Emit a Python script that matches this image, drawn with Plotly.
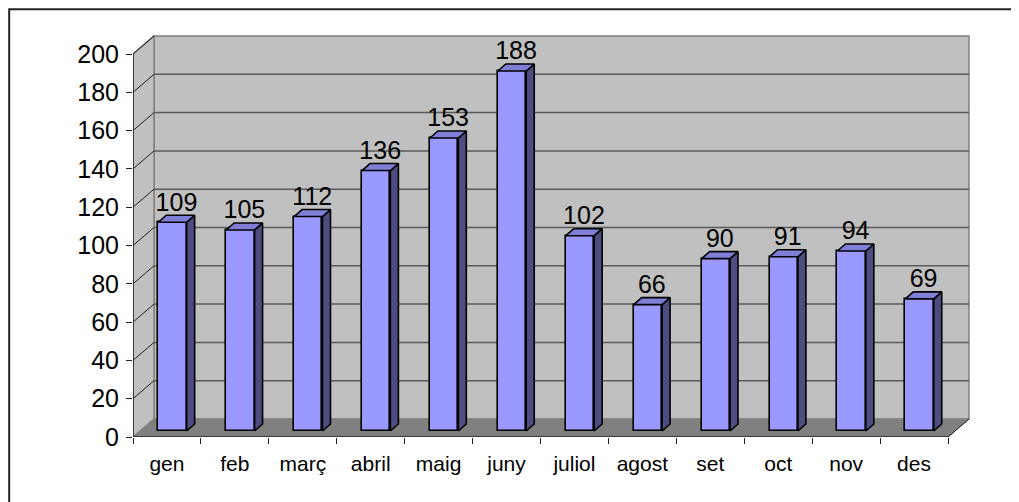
import plotly.graph_objects as go

months = ["gen", "feb", "març", "abril", "maig", "juny", "juliol", "agost", "set", "oct", "nov", "des"]
values = [109, 105, 112, 136, 153, 188, 102, 66, 90, 91, 94, 69]
y_ticks = list(range(0, 201, 20))

# geometry (axis units); page body margin offsets the figure
OFF = 8
W, H = 1019, 502
L, R, T, B = 133 - OFF, 980 - OFF, 30 - OFF, 437 - OFF
px_per_x = (948 - 133) / 12.0
px_per_y = (437 - 54) / 200.0
x0 = -0.5
x1 = x0 + (R - L) / px_per_x
y1 = (B - T) / px_per_y
DX = 21 / px_per_x   # wall depth
DY = 18 / px_per_y
ymax = y_ticks[-1]
n = len(months)

bar_off = 0.081
bar_w = 0.418
base = 3.13
bdx = 8 / px_per_x
bdy = 7 / px_per_y
label_drop = 1.5 / px_per_y

idx = list(range(n))
FONT = "Liberation Sans, Arial, sans-serif"

fig = go.Figure()

# front faces
fig.add_trace(go.Bar(
    x=[i + bar_off for i in idx], y=values, base=base, width=bar_w,
    marker=dict(color="#9999FF", line=dict(color="black", width=1.6)),
    hoverinfo="skip", showlegend=False,
))

# side and top faces
sx, sy, tx, ty = [], [], [], []
for i, v in zip(idx, values):
    xl = i + bar_off - bar_w / 2
    xr = i + bar_off + bar_w / 2
    top = base + v
    sx += [xr, xr + bdx, xr + bdx, xr, xr, None]
    sy += [base, base + bdy, top + bdy, top, base, None]
    tx += [xl, xl + bdx, xr + bdx, xr, xl, None]
    ty += [top, top + bdy, top + bdy, top, top, None]
fig.add_trace(go.Scatter(x=sx, y=sy, mode="lines", fill="toself", fillcolor="#4D4D82",
                         line=dict(color="black", width=1.6), hoverinfo="skip", showlegend=False))
fig.add_trace(go.Scatter(x=tx, y=ty, mode="lines", fill="toself", fillcolor="#7F7FD8",
                         line=dict(color="black", width=1.6), hoverinfo="skip", showlegend=False))

# value labels
fig.add_trace(go.Scatter(
    x=[i + bar_off + bdx / 2 for i in idx], y=[base + v + bdy - label_drop for v in values],
    mode="text", text=[str(v) for v in values], textposition="top center",
    textfont=dict(family=FONT, size=25, color="black"), cliponaxis=False,
    hoverinfo="skip", showlegend=False,
))

# invisible trace for label axis
fig.add_trace(go.Scatter(x=idx, y=values, xaxis="x2", mode="markers",
                         marker=dict(opacity=0), hoverinfo="skip", showlegend=False))

shapes = []
# back wall
shapes.append(dict(type="rect", xref="x", yref="y", x0=x0 + DX, x1=x0 + n + DX, y0=DY, y1=ymax + DY,
                   fillcolor="#C0C0C0", line=dict(color="#808080", width=1.5), layer="below"))
# side wall
shapes.append(dict(type="path", xref="x", yref="y",
                   path=f"M {x0},0 L {x0+DX},{DY} L {x0+DX},{ymax+DY} L {x0},{ymax} Z",
                   fillcolor="#C0C0C0", line=dict(color="#808080", width=1.5), layer="below"))
# floor
shapes.append(dict(type="path", xref="x", yref="y",
                   path=f"M {x0},0 L {x0+n},0 L {x0+n+DX},{DY} L {x0+DX},{DY} Z",
                   fillcolor="#808080", line=dict(color="#808080", width=1), layer="below"))
# gridlines
for t in y_ticks[1:-1]:
    shapes.append(dict(type="line", xref="x", yref="y", x0=x0 + DX, x1=x0 + n + DX, y0=t + DY, y1=t + DY,
                       line=dict(color="#5A5A5A", width=1.5), layer="below"))
for t in y_ticks[1:]:
    shapes.append(dict(type="line", xref="x", yref="y", x0=x0, x1=x0 + DX, y0=t, y1=t + DY,
                       line=dict(color="#202020", width=1), layer="below"))
# floor right edge
shapes.append(dict(type="line", xref="x", yref="y", x0=x0 + n, x1=x0 + n + DX, y0=0, y1=DY,
                   line=dict(color="#202020", width=1), layer="below"))
# axis lines
shapes.append(dict(type="line", xref="x", yref="y", x0=x0, x1=x0, y0=0, y1=ymax,
                   line=dict(color="#202020", width=1.5)))
shapes.append(dict(type="line", xref="x", yref="y", x0=x0, x1=x0 + n, y0=0, y1=0,
                   line=dict(color="#202020", width=1.5)))
# outer border (top and left edges visible)
shapes.append(dict(type="rect", xref="paper", yref="paper",
                   x0=(1.2 - L) / (R - L), x1=(1030 - L) / (R - L),
                   y0=(B - 515) / (B - T), y1=(B - 1.2) / (B - T),
                   line=dict(color="#222222", width=2)))

fig.update_layout(
    width=W, height=H,
    margin=dict(l=L, r=W - R, t=T, b=H - B, pad=0),
    paper_bgcolor="white", plot_bgcolor="rgba(0,0,0,0)",
    shapes=shapes, bargap=0,
    xaxis=dict(range=[x0, x1], tickvals=[x0 + k for k in range(n + 1)], showticklabels=False,
               ticks="outside", ticklen=6, tickwidth=1.2, tickcolor="#202020",
               showgrid=False, zeroline=False, showline=False),
    xaxis2=dict(range=[x0, x1], overlaying="x", side="bottom", anchor="y",
                tickvals=idx, ticktext=months, ticks="", showgrid=False, zeroline=False, showline=False,
                tickfont=dict(family=FONT, size=21, color="black"), ticklabelstandoff=12),
    yaxis=dict(range=[0, y1], tickvals=y_ticks, ticks="outside", ticklen=6, tickwidth=1.2,
               tickcolor="#202020", showgrid=False, zeroline=False, showline=False,
               tickfont=dict(family=FONT, size=25, color="black"), ticklabelstandoff=2),
)

fig.write_html("out.html")
